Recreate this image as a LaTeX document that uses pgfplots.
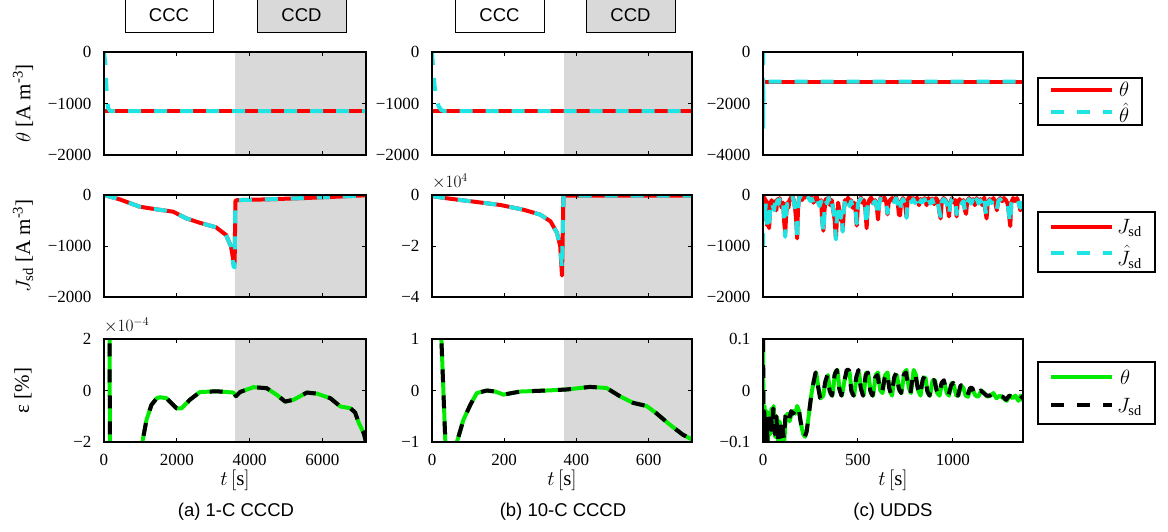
\documentclass[border=0pt]{standalone}
\usepackage{fontspec}
\setmainfont{Liberation Serif}
\setsansfont{Liberation Sans}
\usepackage{pgfplots}
\pgfplotsset{compat=1.18}
\definecolor{myred}{RGB}{255,0,0}
\definecolor{mycyan}{RGB}{30,228,228}
\definecolor{mygreen}{RGB}{0,235,0}
\definecolor{shade}{RGB}{217,217,217}
\tikzset{
  redl/.style={myred, line width=4pt, line join=round},
  cyanl/.style={mycyan, line width=4pt, line join=round, dash pattern=on 13pt off 13pt},
  greenl/.style={mygreen, line width=4pt, line join=round},
  blackl/.style={black, line width=4pt, line join=round, dash pattern=on 13pt off 13pt},
  legtext/.style={anchor=west, inner sep=0pt, font=\fontsize{20.74}{22}\selectfont},
}
\pgfplotsset{
  base/.style={scale only axis, axis on top, anchor=south west,
    axis line style={line width=1.2pt},
    tick style={black, line width=0.8pt}, major tick length=4pt,
    tick align=inside,
    ticklabel style={font=\fontsize{17}{19}\selectfont},
    yticklabel style={xshift=-9pt},
    xticklabel style={yshift=-9pt},
    label style={font=\fontsize{21}{24}\selectfont},
    xlabel style={at={(axis description cs:0.5,-0.37)}, anchor=center},
    ylabel style={at={(axis description cs:-0.309,0.5)}, anchor=center},
  },
  shadel/.style={fill=shade, draw=none, forget plot},
  col1/.style={base, width=262pt, xmin=0, xmax=7200, xtick={0,2000,4000,6000}},
  col2/.style={base, width=260pt, xmin=0, xmax=720, xtick={0,200,400,600}},
  col3/.style={base, width=260pt, xmin=0, xmax=1370, xtick={0,500,1000}},
  row1/.style={height=103pt, xticklabels={}},
  row2/.style={height=102pt, xticklabels={}},
  row3/.style={height=103pt, xlabel={$t\,[\mathrm{s}]$}},
}
\begin{document}
\begin{tikzpicture}
\path[use as bounding box] (0pt,0pt) rectangle (1168pt,-531pt);

% ---------- CCC / CCD boxes ----------
\draw[line width=0.8pt] (125pt,5pt) rectangle (213pt,-32pt);
\node[font=\sffamily\fontsize{18.5}{20}\selectfont] at (169pt,-15pt) {CCC};
\draw[line width=0.8pt, fill=shade] (257pt,5pt) rectangle (346pt,-32pt);
\node[font=\sffamily\fontsize{18.5}{20}\selectfont] at (301.5pt,-15pt) {CCD};
\draw[line width=0.8pt] (455pt,5pt) rectangle (544pt,-32pt);
\node[font=\sffamily\fontsize{18.5}{20}\selectfont] at (499.5pt,-15pt) {CCC};
\draw[line width=0.8pt, fill=shade] (586pt,5pt) rectangle (675pt,-32pt);
\node[font=\sffamily\fontsize{18.5}{20}\selectfont] at (630.5pt,-15pt) {CCD};

% ================= ROW 1 =================
\begin{axis}[col1, row1, at={(104pt,-155pt)},
  ymin=-2000, ymax=0, ytick={-2000,-1000,0}, yticklabels={−2000,−1000,0},
  ylabel={$\theta$ [A m\textsuperscript{-3}]}]
\addplot[shadel] coordinates {(3600,-2000) (3600,0) (7200,0) (7200,-2000)};
\addplot[redl] coordinates {(0,-1150) (7200,-1150)};
\addplot[cyanl] coordinates {(0,0) (40,-250) (70,-750) (110,-1080) (170,-1150) (7200,-1150)};
\end{axis}

\begin{axis}[col2, row1, at={(432pt,-155pt)},
  ymin=-2000, ymax=0, ytick={-2000,-1000,0}, yticklabels={−2000,−1000,0}]
\addplot[shadel] coordinates {(365,-2000) (365,0) (720,0) (720,-2000)};
\addplot[redl] coordinates {(0,-1150) (720,-1150)};
\addplot[cyanl] coordinates {(0,0) (3,-300) (7,-650) (12,-900) (18,-1050) (26,-1130) (36,-1150) (720,-1150)};
\end{axis}

\begin{axis}[col3, row1, at={(763pt,-155pt)},
  ymin=-4000, ymax=0, ytick={-4000,-2000,0}, yticklabels={−4000,−2000,0}]
\addplot[redl] coordinates {(0,-1150) (1370,-1150)};
\addplot[cyanl] coordinates {(0,0) (1,-3000) (2,-1150) (1370,-1150)};
\end{axis}

% ================= ROW 2 =================
\begin{axis}[col1, row2, at={(104pt,-297pt)},
  ymin=-2000, ymax=0, ytick={-2000,-1000,0}, yticklabels={−2000,−1000,0},
  ylabel={$J_{\mathrm{sd}}$ [A m\textsuperscript{-3}]}]
\addplot[shadel] coordinates {(3600,-2000) (3600,-100) (4500,-85) (5500,-60) (6500,-30) (7200,-5) (7200,-2000)};
\addplot[redl] coordinates {(0,0) (430,-85) (980,-229) (1440,-281) (1900,-327) (2260,-457) (2620,-542) (3080,-634) (3355,-784) (3490,-1013) (3560,-1300) (3590,-1350) (3610,-120) (3650,-100) (4500,-85) (5500,-60) (6500,-30) (7200,-5)};
\addplot[cyanl] coordinates {(0,0) (430,-85) (980,-229) (1440,-281) (1900,-327) (2260,-457) (2620,-542) (3080,-634) (3355,-784) (3490,-1013) (3560,-1400) (3590,-1420) (3610,-120) (3650,-100) (4500,-85) (5500,-60) (6500,-30) (7200,-5)};
\end{axis}

\begin{axis}[col2, row2, at={(432pt,-297pt)},
  ymin=-4, ymax=0, ytick={-4,-2,0}, yticklabels={−4,−2,0}]
\addplot[shadel] coordinates {(365,-4) (365,0) (720,0) (720,-4)};
\addplot[redl] coordinates {(0,-0.04) (41,-0.13) (115,-0.26) (189,-0.39) (254,-0.58) (300,-0.77) (328,-1.03) (346,-1.48) (355,-2.0) (360,-3.16) (364,-0.05) (368,-0.02) (720,-0.02)};
\addplot[cyanl] coordinates {(0,-0.04) (41,-0.13) (115,-0.26) (189,-0.39) (254,-0.58) (300,-0.77) (328,-1.03) (346,-1.48) (355,-2.0) (360,-2.9) (364,-0.05) (368,-0.02) (720,-0.02)};
\end{axis}
\node[font=\fontsize{17.28}{19}\selectfont, anchor=south west, inner sep=0pt] at (432pt,-189pt) {$\times10^{4}$};

\begin{axis}[col3, row2, at={(763pt,-297pt)},
  ymin=-2000, ymax=0, ytick={-2000,-1000,0}, yticklabels={−2000,−1000,0}]
\addplot[redl] coordinates {(0,-500) (3,-100) (8,-50) (12,-350) (16,-100) (22,-600) (28,-150) (32,-650) (38,-200) (45,-100) (52,-200) (58,-250) (64,-120) (70,-300) (76,-80) (82,-150) (88,-60) (94,-200) (100,-250) (106,-150) (112,-550) (117,-750) (122,-400) (128,-150) (134,-250) (140,-100) (148,-50) (155,-20) (162,-100) (170,-300) (176,-550) (180,-850) (184,-300) (190,-50) (198,-10) (206,-100) (214,-20) (222,-50) (230,-10) (240,-30) (250,-100) (258,-50) (266,-150) (274,-80) (282,-20) (290,-120) (298,-200) (306,-100) (312,-500) (318,-700) (324,-300) (330,-80) (338,-150) (346,-30) (354,-200) (362,-100) (370,-300) (378,-500) (384,-850) (390,-450) (396,-150) (402,-300) (410,-500) (416,-350) (420,-700) (426,-300) (432,-100) (440,-150) (448,-50) (456,-200) (464,-100) (472,-250) (480,-150) (488,-300) (494,-600) (500,-200) (508,-100) (516,-50) (524,-150) (532,-100) (540,-300) (546,-650) (552,-200) (560,-100) (570,-50) (580,-150) (590,-100) (600,-250) (606,-480) (612,-150) (620,-50) (630,-100) (640,-50) (650,-150) (656,-380) (662,-150) (670,-100) (680,-60) (690,-120) (700,-40) (710,-150) (716,-380) (722,-400) (728,-120) (738,-60) (748,-150) (756,-420) (762,-100) (772,-30) (782,-120) (792,-60) (802,-140) (812,-50) (822,-200) (832,-80) (842,-120) (852,-60) (862,-200) (872,-60) (882,-150) (892,-70) (902,-180) (912,-60) (922,-120) (930,-350) (936,-460) (942,-120) (952,-60) (962,-100) (972,-200) (980,-420) (986,-150) (996,-60) (1006,-150) (1014,-100) (1020,-420) (1026,-150) (1036,-80) (1046,-150) (1056,-100) (1064,-300) (1070,-370) (1076,-120) (1086,-60) (1096,-150) (1106,-80) (1116,-200) (1126,-60) (1136,-150) (1146,-80) (1156,-200) (1166,-50) (1172,-300) (1178,-460) (1184,-150) (1194,-80) (1204,-140) (1214,-60) (1224,-150) (1232,-300) (1240,-100) (1250,-60) (1260,-120) (1270,-60) (1280,-100) (1290,-180) (1298,-450) (1303,-610) (1308,-150) (1318,-60) (1328,-120) (1338,-60) (1348,-150) (1356,-300) (1362,-250) (1370,-300)};
\addplot[cyanl] coordinates {(0,-1000) (3,-150) (8,-80) (12,-300) (16,-120) (22,-700) (28,-180) (32,-680) (38,-220) (45,-120) (52,-220) (58,-300) (64,-150) (70,-280) (76,-100) (82,-180) (88,-80) (94,-220) (100,-230) (106,-170) (112,-500) (117,-820) (122,-350) (128,-170) (134,-230) (140,-120) (148,-70) (155,-40) (162,-120) (170,-280) (176,-500) (180,-900) (184,-280) (190,-70) (198,-30) (206,-120) (214,-40) (222,-70) (230,-30) (240,-50) (250,-120) (258,-70) (266,-170) (274,-100) (282,-40) (290,-140) (298,-220) (306,-120) (312,-480) (318,-760) (324,-280) (330,-100) (338,-170) (346,-50) (354,-220) (362,-120) (370,-280) (378,-450) (384,-870) (390,-400) (396,-170) (402,-320) (410,-450) (416,-330) (420,-720) (426,-280) (432,-120) (440,-170) (448,-70) (456,-220) (464,-120) (472,-230) (480,-170) (488,-280) (494,-560) (500,-180) (508,-120) (516,-70) (524,-170) (532,-120) (540,-280) (546,-600) (552,-180) (560,-120) (570,-70) (580,-170) (590,-120) (600,-230) (606,-430) (612,-170) (620,-70) (630,-120) (640,-70) (650,-170) (656,-360) (662,-170) (670,-120) (680,-80) (690,-140) (700,-60) (710,-170) (716,-350) (722,-300) (728,-140) (738,-80) (748,-170) (756,-450) (762,-120) (772,-50) (782,-140) (792,-80) (802,-160) (812,-70) (822,-220) (832,-100) (842,-140) (852,-80) (862,-220) (872,-80) (882,-170) (892,-90) (902,-200) (912,-80) (922,-140) (930,-330) (936,-420) (942,-140) (952,-80) (962,-120) (972,-220) (980,-400) (986,-170) (996,-80) (1006,-170) (1014,-120) (1020,-380) (1026,-170) (1036,-100) (1046,-170) (1056,-120) (1064,-280) (1070,-340) (1076,-140) (1086,-80) (1096,-170) (1106,-100) (1116,-220) (1126,-80) (1136,-170) (1146,-100) (1156,-220) (1166,-70) (1172,-280) (1178,-420) (1184,-170) (1194,-100) (1204,-160) (1214,-80) (1224,-170) (1232,-280) (1240,-120) (1250,-80) (1260,-140) (1270,-80) (1280,-120) (1290,-200) (1298,-430) (1303,-560) (1308,-170) (1318,-80) (1328,-140) (1338,-80) (1348,-170) (1356,-250) (1362,-150) (1370,-200)};
\end{axis}

% ================= ROW 3 =================
\begin{axis}[col1, row3, at={(104pt,-442pt)},
  ymin=-2, ymax=2, ytick={-2,0,2}, yticklabels={−2,0,2},
  xticklabels={0,2000,4000,6000},
  ylabel={ε [\%]}]
\addplot[shadel] coordinates {(3600,-2) (3600,2) (7200,2) (7200,-2)};
\addplot[greenl] coordinates {(0,20) (150,3) (165,-3) (400,-8) (900,-4) (1055,-2) (1168,-1.14) (1304,-0.56) (1450,-0.3) (1534,-0.26) (1718,-0.3) (1994,-0.69) (2130,-0.69) (2360,-0.36) (2636,-0.06) (3095,-0.03) (3555,-0.08) (3628,-0.22) (3738,-0.06) (4106,0.13) (4473,0.09) (4749,-0.17) (4979,-0.43) (5208,-0.36) (5576,-0.08) (5852,-0.12) (6220,-0.3) (6496,-0.62) (6771,-0.69) (6900,-0.85) (7000,-1.25) (7138,-1.66) (7200,-2)};
\addplot[blackl] coordinates {(0,20) (150,3) (165,-3) (400,-8) (900,-4) (1055,-2) (1168,-1.14) (1304,-0.56) (1450,-0.3) (1534,-0.26) (1718,-0.3) (1994,-0.69) (2130,-0.69) (2360,-0.36) (2636,-0.06) (3095,-0.03) (3555,-0.08) (3628,-0.22) (3738,-0.06) (4106,0.13) (4473,0.09) (4749,-0.17) (4979,-0.43) (5208,-0.36) (5576,-0.08) (5852,-0.12) (6220,-0.3) (6496,-0.62) (6771,-0.69) (6900,-0.85) (7000,-1.25) (7138,-1.66) (7200,-2)};
\end{axis}
\node[font=\fontsize{17.28}{19}\selectfont, anchor=south west, inner sep=0pt] at (104pt,-333pt) {$\times10^{-4}$};

\begin{axis}[col2, row3, at={(432pt,-442pt)},
  ymin=-1, ymax=1, ytick={-1,0,1}, yticklabels={−1,0,1},
  xticklabels={0,200,400,600}]
\addplot[shadel] coordinates {(365,-1) (365,1) (720,1) (720,-1)};
\addplot[greenl] coordinates {(0,10) (20,2) (26,1) (37,-1) (45,-2) (60,-1.5) (69,-1) (87,-0.57) (106,-0.28) (124,-0.05) (152,0.0) (175,-0.02) (198,-0.08) (244,-0.02) (318,0.0) (373,0.02) (437,0.07) (483,0.05) (520,-0.11) (557,-0.24) (594,-0.3) (621,-0.44) (658,-0.66) (695,-0.86) (720,-0.95)};
\addplot[blackl] coordinates {(0,10) (20,2) (26,1) (37,-1) (45,-2) (60,-1.5) (69,-1) (87,-0.57) (106,-0.28) (124,-0.05) (152,0.0) (175,-0.02) (198,-0.08) (244,-0.02) (318,0.0) (373,0.02) (437,0.07) (483,0.05) (520,-0.11) (557,-0.24) (594,-0.3) (621,-0.44) (658,-0.66) (695,-0.86) (720,-0.95)};
\end{axis}

\begin{axis}[col3, row3, at={(763pt,-442pt)},
  ymin=-0.1, ymax=0.1, ytick={-0.1,0,0.1}, yticklabels={−0.1,0,0.1},
  xticklabels={0,500,1000}]
\addplot[greenl] coordinates {(0,0.1) (1,0.06) (2,-0.1) (8,-0.03) (14,-0.09) (20,-0.04) (26,-0.1) (32,-0.05) (38,-0.085) (44,-0.035) (50,-0.07) (56,-0.03) (64,-0.09) (72,-0.05) (80,-0.1) (88,-0.06) (96,-0.095) (104,-0.07) (112,-0.1) (120,-0.05) (130,-0.045) (140,-0.06) (150,-0.045) (160,-0.04) (170,-0.045) (180,-0.03) (190,-0.04) (200,-0.065) (212,-0.085) (222,-0.09) (232,-0.075) (244,-0.04) (256,-0.005) (268,0.02) (280,0.035) (292,0.005) (304,-0.015) (318,-0.01) (330,0.02) (342,0.03) (354,-0.005) (366,-0.01) (380,0.035) (392,0.04) (404,0.0) (416,-0.01) (430,0.02) (444,0.04) (456,0.035) (468,-0.005) (480,-0.01) (494,0.03) (506,0.035) (518,0.0) (530,-0.01) (544,0.035) (556,0.03) (568,-0.005) (580,-0.01) (594,0.03) (606,0.035) (618,0.0) (630,-0.005) (644,0.03) (656,0.035) (668,0.0) (680,-0.01) (694,0.03) (706,0.03) (718,0.0) (730,-0.005) (744,0.035) (756,0.04) (768,0.005) (780,-0.005) (794,0.04) (806,0.03) (818,0.0) (830,-0.01) (844,0.025) (856,0.025) (868,-0.005) (880,-0.01) (894,0.02) (906,0.02) (918,-0.005) (930,-0.01) (944,0.015) (956,0.015) (968,-0.005) (980,-0.01) (994,0.015) (1006,0.01) (1018,-0.01) (1030,-0.01) (1044,0.01) (1056,0.005) (1068,-0.01) (1080,-0.012) (1094,0.005) (1106,0.0) (1120,-0.01) (1134,-0.012) (1150,0.0) (1166,-0.005) (1182,-0.012) (1198,-0.01) (1214,-0.005) (1230,-0.015) (1248,-0.01) (1266,-0.015) (1284,-0.02) (1300,-0.01) (1316,-0.015) (1330,-0.01) (1346,-0.02) (1358,-0.01) (1370,-0.02)};
\addplot[blackl] coordinates {(0,0.1) (1,0.1) (2,-0.1) (6,-0.04) (12,-0.08) (18,-0.05) (24,-0.1) (30,-0.04) (36,-0.09) (42,-0.04) (48,-0.08) (54,-0.035) (62,-0.085) (70,-0.05) (78,-0.095) (86,-0.055) (94,-0.09) (102,-0.065) (110,-0.095) (118,-0.05) (128,-0.04) (138,-0.055) (148,-0.04) (158,-0.045) (168,-0.04) (178,-0.03) (188,-0.035) (198,-0.06) (210,-0.08) (220,-0.09) (230,-0.08) (242,-0.045) (254,-0.01) (266,0.015) (277,0.035) (289,0.01) (301,-0.015) (315,-0.015) (327,0.015) (339,0.03) (351,0.0) (363,-0.01) (377,0.03) (389,0.04) (401,0.005) (413,-0.01) (427,0.015) (441,0.04) (453,0.04) (465,0.0) (477,-0.01) (491,0.025) (503,0.04) (515,0.005) (527,-0.01) (541,0.03) (553,0.035) (565,0.0) (577,-0.01) (591,0.025) (603,0.03) (615,0.005) (627,-0.005) (641,0.025) (653,0.035) (665,0.005) (677,-0.01) (691,0.025) (703,0.035) (715,0.005) (727,-0.005) (741,0.03) (753,0.035) (765,0.01) (777,-0.005) (791,0.035) (803,0.03) (815,0.005) (827,-0.01) (841,0.02) (853,0.03) (865,0.0) (877,-0.01) (891,0.02) (903,0.02) (915,0.0) (927,-0.01) (941,0.015) (953,0.02) (965,0.0) (977,-0.01) (991,0.01) (1003,0.015) (1015,-0.005) (1027,-0.01) (1041,0.01) (1053,0.01) (1065,-0.005) (1077,-0.01) (1091,0.005) (1103,0.005) (1117,-0.01) (1131,-0.01) (1147,0.0) (1163,-0.005) (1179,-0.01) (1195,-0.01) (1211,-0.005) (1227,-0.012) (1245,-0.01) (1263,-0.012) (1281,-0.018) (1297,-0.01) (1313,-0.012) (1327,-0.008) (1343,-0.015) (1355,-0.01) (1370,-0.015)};
\end{axis}

% ---------- legends ----------
\draw[line width=1.3pt] (1038pt,-78pt) rectangle (1142pt,-125pt);
\draw[redl] (1051pt,-90pt) -- (1112pt,-90pt);
\draw[cyanl] (1051pt,-112pt) -- (1112pt,-112pt);
\node[legtext] at (1119pt,-89pt) {$\theta$};
\node[legtext] at (1119pt,-113pt) {$\hat{\theta}$};

\draw[line width=1.3pt] (1038pt,-212pt) rectangle (1155pt,-272pt);
\draw[redl] (1051pt,-227pt) -- (1112pt,-227pt);
\draw[cyanl] (1051pt,-253pt) -- (1112pt,-253pt);
\node[legtext] at (1117pt,-228pt) {$J_{\mathrm{sd}}$};
\node[legtext] at (1117pt,-257pt) {$\hat{J}_{\mathrm{sd}}$};

\draw[line width=1.3pt] (1038pt,-362pt) rectangle (1155pt,-424pt);
\draw[greenl] (1051pt,-377pt) -- (1112pt,-377pt);
\draw[blackl] (1051pt,-405pt) -- (1112pt,-405pt);
\node[legtext] at (1120pt,-377pt) {$\theta$};
\node[legtext] at (1117pt,-407pt) {$J_{\mathrm{sd}}$};

% ---------- captions ----------
\node[font=\sffamily\fontsize{18.5}{20}\selectfont] at (236pt,-512pt) {(a) 1-C CCCD};
\node[font=\sffamily\fontsize{18.5}{20}\selectfont] at (563pt,-512pt) {(b) 10-C CCCD};
\node[font=\sffamily\fontsize{18.5}{20}\selectfont] at (893pt,-512pt) {(c) UDDS};
\end{tikzpicture}
\end{document}
